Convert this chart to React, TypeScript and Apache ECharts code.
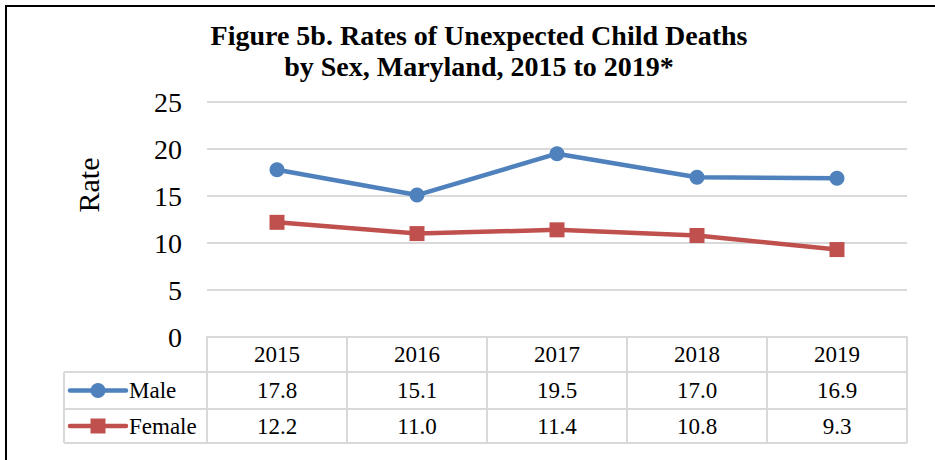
import React, { useEffect, useRef } from "react";
import * as echarts from "echarts";

const years = ["2015", "2016", "2017", "2018", "2019"];
const maleRates = [17.8, 15.1, 19.5, 17.0, 16.9];
const femaleRates = [12.2, 11.0, 11.4, 10.8, 9.3];
const seriesNames = ["Male", "Female"];
const titleLines = ["Figure 5b. Rates of Unexpected Child Deaths", "by Sex, Maryland, 2015 to 2019*"];
const yAxisTitle = "Rate";

const BLUE = "#4F81BD";
const RED = "#C0504D";
const GRID = "#d9d9d9";
const FONT = "Liberation Serif";

export default function App() {
  const ref = useRef<HTMLDivElement>(null);

  useEffect(() => {
    if (!ref.current) return;
    const chart = echarts.init(ref.current, null, { renderer: "svg" });
    const option: any = {
      animation: false,
      backgroundColor: "#ffffff",
      title: {
        text: titleLines.join("\n"),
        left: 479,
        top: 20,
        padding: 0,
        textAlign: "center",
        textStyle: {
          fontFamily: FONT,
          fontWeight: "bold",
          fontSize: 28,
          lineHeight: 31,
          color: "#000",
        },
      },
      grid: { left: 207, right: 28, top: 102, bottom: 123, containLabel: false },
      xAxis: {
        type: "category",
        data: years,
        boundaryGap: true,
        axisLine: { show: true, lineStyle: { color: GRID, width: 2 } },
        axisTick: { show: false },
        axisLabel: { show: false },
        splitLine: { show: false },
      },
      yAxis: {
        type: "value",
        min: 0,
        max: 25,
        interval: 5,
        axisLine: { show: false },
        axisTick: { show: false },
        axisLabel: {
          margin: 25,
          fontFamily: FONT,
          fontSize: 28,
          color: "#000",
        },
        splitLine: { show: true, lineStyle: { color: GRID, width: 2 } },
      },
      series: [
        {
          name: seriesNames[0],
          type: "line",
          data: maleRates,
          symbol: "circle",
          symbolSize: 15,
          lineStyle: { color: BLUE, width: 4.5 },
          itemStyle: { color: BLUE },
          z: 3,
        },
        {
          name: seriesNames[1],
          type: "line",
          data: femaleRates,
          symbol: "rect",
          symbolSize: 15,
          lineStyle: { color: RED, width: 4.5 },
          itemStyle: { color: RED },
          z: 3,
        },
      ],
    };
    chart.setOption(option);

    const centers = years.map((_, i) => chart.convertToPixel({ xAxisIndex: 0 }, i) as number);
    const band = centers.length > 1 ? centers[1] - centers[0] : 140;
    const x0 = centers[0] - band / 2;
    const x1 = centers[centers.length - 1] + band / 2;
    const yTop = chart.convertToPixel({ yAxisIndex: 0 }, 0) as number;
    const rowBounds = [yTop, yTop + 35, yTop + 72, yTop + 106];
    const legendLeft = 64;
    const lineColor = GRID;
    const lw = 2;

    const g: any[] = [];
    // outer frame (left and top edges)
    g.push({ type: "line", shape: { x1: 5, y1: 6, x2: 940, y2: 6 }, style: { stroke: "#000", lineWidth: 2 } });
    g.push({ type: "line", shape: { x1: 6, y1: 5, x2: 6, y2: 470 }, style: { stroke: "#000", lineWidth: 2 } });

    // table horizontal lines
    for (let r = 1; r < rowBounds.length; r++) {
      g.push({ type: "line", shape: { x1: legendLeft, y1: rowBounds[r], x2: x1, y2: rowBounds[r] }, style: { stroke: lineColor, lineWidth: lw } });
    }
    // table vertical lines
    for (let c = 0; c <= years.length; c++) {
      const x = x0 + c * band;
      g.push({ type: "line", shape: { x1: x, y1: rowBounds[0], x2: x, y2: rowBounds[3] }, style: { stroke: lineColor, lineWidth: lw } });
    }
    g.push({ type: "line", shape: { x1: legendLeft, y1: rowBounds[1], x2: legendLeft, y2: rowBounds[3] }, style: { stroke: lineColor, lineWidth: lw } });

    const textStyle = (text: string, x: number, y: number, align = "center") => ({
      type: "text",
      x,
      y,
      style: {
        text,
        fontFamily: FONT,
        fontSize: 23,
        fill: "#000",
        align,
        verticalAlign: "middle",
      },
    });

    const rowMid = (r: number) => (rowBounds[r] + rowBounds[r + 1]) / 2;
    years.forEach((yr, i) => g.push(textStyle(yr, centers[i], rowMid(0))));
    maleRates.forEach((v, i) => g.push(textStyle(v.toFixed(1), centers[i], rowMid(1))));
    femaleRates.forEach((v, i) => g.push(textStyle(v.toFixed(1), centers[i], rowMid(2))));

    // legend keys
    const ky1 = rowMid(1);
    const ky2 = rowMid(2);
    g.push({ type: "line", shape: { x1: 70, y1: ky1, x2: 126, y2: ky1 }, style: { stroke: BLUE, lineWidth: 4.5, lineCap: "round" } });
    g.push({ type: "circle", shape: { cx: 98, cy: ky1, r: 7.5 }, style: { fill: BLUE } });
    g.push(textStyle(seriesNames[0], 129, ky1, "left"));
    g.push({ type: "line", shape: { x1: 70, y1: ky2, x2: 126, y2: ky2 }, style: { stroke: RED, lineWidth: 4.5, lineCap: "round" } });
    g.push({ type: "rect", shape: { x: 98 - 7.5, y: ky2 - 7.5, width: 15, height: 15 }, style: { fill: RED } });
    g.push(textStyle(seriesNames[1], 129, ky2, "left"));

    // y-axis title
    g.push({
      type: "text",
      x: 88,
      y: 185,
      rotation: Math.PI / 2,
      style: {
        text: yAxisTitle,
        fontFamily: FONT,
        fontSize: 30,
        fill: "#000",
        align: "center",
        verticalAlign: "middle",
      },
    });

    chart.setOption({ graphic: g });

    return () => chart.dispose();
  }, []);

  return (
    <div
      ref={ref}
      style={{ position: "fixed", left: 0, top: 0, width: 935, height: 460, background: "#fff" }}
    />
  );
}
